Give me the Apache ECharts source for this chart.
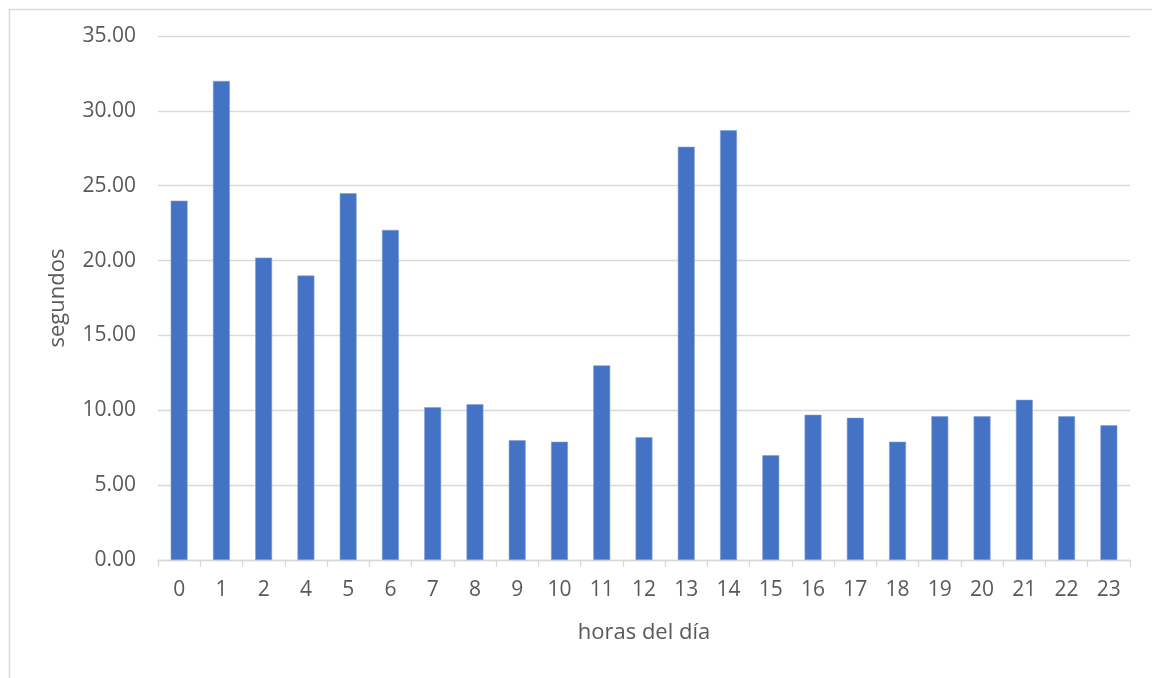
<!DOCTYPE html>
<html>
<head>
<meta charset="utf-8">
<style>
  html, body { margin: 0; padding: 0; background: #ffffff; }
  #chart { width: 1152px; height: 678px; }
</style>
<script src="https://cdn.jsdelivr.net/npm/echarts@6/dist/echarts.min.js"></script>
</head>
<body>
<div id="chart"></div>
<script>
// Hours of the day (hour 3 has no record)
const hours = ['0', '1', '2', '4', '5', '6', '7', '8', '9', '10', '11', '12',
               '13', '14', '15', '16', '17', '18', '19', '20', '21', '22', '23'];

// Average time in seconds for each hour
const seconds = [24.0, 32.0, 20.2, 19.0, 24.5, 22.05, 10.2, 10.4, 8.0, 7.9, 13.0, 8.2,
                 27.6, 28.7, 7.0, 9.7, 9.5, 7.9, 9.6, 9.6, 10.7, 9.6, 9.0];

// Value axis range and step
const yMin = 0;
const yMax = 35;
const yStep = 5;

const textColor = '#595959';
const lineColor = '#d9d9d9';
const fontFamily = '"Open Sans", "Noto Sans", sans-serif';

const chart = echarts.init(document.getElementById('chart'), null, { renderer: 'canvas' });

chart.setOption({
  animation: false,
  backgroundColor: '#ffffff',
  graphic: [{
    type: 'rect',
    left: 7,
    top: 7,
    shape: { width: 1160, height: 700 },
    style: { fill: 'none', stroke: lineColor, lineWidth: 1.5 },
    silent: true,
    z: -1
  }],
  grid: { left: 158, right: 22, top: 36, bottom: 118, containLabel: false },
  xAxis: {
    type: 'category',
    data: hours,
    boundaryGap: true,
    name: 'horas del día',
    nameLocation: 'middle',
    nameGap: 62,
    nameTextStyle: { color: textColor, fontSize: 22, fontFamily: fontFamily },
    axisLine: { show: true, lineStyle: { color: lineColor, width: 1.3 } },
    axisTick: { show: true, alignWithLabel: false, length: 7, lineStyle: { color: lineColor, width: 1.3 } },
    axisLabel: { color: textColor, fontSize: 21, fontFamily: fontFamily, margin: 20, interval: 0 },
    splitLine: { show: false }
  },
  yAxis: {
    type: 'value',
    min: yMin,
    max: yMax,
    interval: yStep,
    name: 'segundos',
    nameLocation: 'middle',
    nameGap: 89,
    nameRotate: 90,
    nameTextStyle: { color: textColor, fontSize: 22, fontFamily: fontFamily },
    axisLine: { show: false },
    axisTick: { show: false },
    axisLabel: {
      color: textColor,
      fontSize: 21,
      fontFamily: fontFamily,
      margin: 22,
      formatter: v => v.toFixed(2)
    },
    splitLine: { show: true, lineStyle: { color: lineColor, width: 1.3 } }
  },
  series: [{
    type: 'bar',
    data: seconds,
    barWidth: '40%',
    itemStyle: { color: '#4472c4', borderColor: '#7f9fd6', borderWidth: 0.6 }
  }]
});
</script>
</body>
</html>
